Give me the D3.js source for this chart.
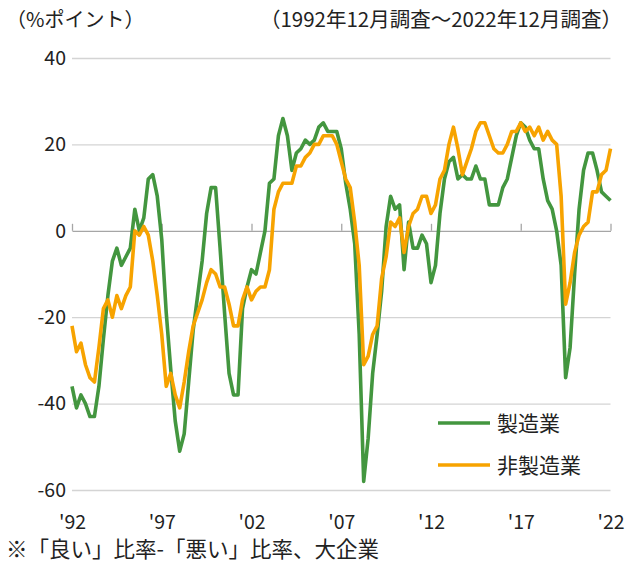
<!DOCTYPE html>
<html>
<head>
<meta charset="utf-8">
<script src="https://cdn.jsdelivr.net/npm/d3@7"></script>
<style>
  body { margin: 0; background: #fff; }
  svg text { font-family: "Noto Sans CJK JP", "Noto Sans", sans-serif; fill: #222; }
</style>
</head>
<body>
<svg id="chart" width="626" height="564"></svg>
<script>
// 1992年12月調査〜2022年12月調査, quarterly, large enterprises
const mfg = [
  -36, -41, -38, -40, -43, -43, -36, -25, -15, -7,
  -4, -8, -6, -4, 5, 0, 3, 12, 13, 8,
  -2, -19, -32, -44, -51, -47, -35, -23, -15, -7,
  4, 10, 10, -4, -19, -33, -38, -38, -18, -13,
  -9, -10, -5, 0, 11, 12, 22, 26, 22, 14,
  18, 19, 21, 20, 21, 24, 25, 23, 23, 23,
  19, 11, 5, -3, -24, -58, -48, -33, -24, -14,
  1, 8, 5, 6, -9, 2, -4, -4, -1, -3,
  -12, -8, 4, 12, 16, 17, 12, 13, 12, 12,
  15, 12, 12, 6, 6, 6, 10, 12, 17, 22,
  25, 24, 21, 19, 19, 12, 7, 5, 0, -8,
  -34, -27, -10, 5, 14, 18, 18, 14, 9, 8,
  7
];
const nonMfg = [
  -22, -28, -26, -31, -34, -35, -27, -18, -16, -20,
  -15, -18, -15, -13, 0, -1, 1, -1, -7, -15,
  -24, -36, -33, -38, -41, -35, -28, -22, -19, -16,
  -12, -9, -10, -13, -13, -17, -22, -22, -16, -13,
  -16, -14, -13, -13, -9, 5, 9, 11, 11, 11,
  15, 15, 17, 18, 20, 20, 22, 22, 22, 20,
  16, 12, 10, 2, -8, -31, -29, -24, -22, -11,
  -6, 2, 1, 3, -5, 1, 4, 5, 8, 8,
  4, 6, 12, 14, 20, 24, 19, 13, 16, 19,
  23, 25, 25, 22, 19, 18, 18, 20, 23, 23,
  25, 23, 24, 22, 24, 21, 23, 21, 20, 8,
  -17, -12, -5, -1, 1, 2, 9, 9, 13, 14,
  19
];
const seriesNames = ["製造業", "非製造業"];
const seriesColors = ["#43963f", "#f7a300"];
const xTickIndex = [0, 20, 40, 60, 80, 100, 120];
const xTickLabels = ["'92", "'97", "'02", "'07", "'12", "'17", "'22"];
const yTicks = [-60, -40, -20, 0, 20, 40];

const svg = d3.select('#chart');
const plotLeft = 72, plotRight = 610.5, plotTop = 58, plotBottom = 490;

const x = d3.scaleLinear().domain([0, mfg.length - 1]).range([plotLeft, plotRight]);
const y = d3.scaleLinear().domain([-60, 40]).range([plotBottom, plotTop]);

// gridlines
svg.append('g')
  .attr('transform', `translate(${plotLeft},0)`)
  .call(d3.axisLeft(y).tickValues(yTicks.filter(d => d !== 0)).tickSize(-(plotRight - plotLeft)).tickFormat(''))
  .call(g => g.select('.domain').remove())
  .call(g => g.selectAll('line').attr('stroke', '#d4d4d4').attr('stroke-width', 1.3));

// y labels (plain hyphen minus like the original)
svg.append('g')
  .attr('transform', `translate(${plotLeft},0)`)
  .call(d3.axisLeft(y).tickValues(yTicks).tickSize(0).tickPadding(6).tickFormat(d => String(d)))
  .call(g => g.select('.domain').remove())
  .call(g => g.selectAll('text').attr('font-size', 19.5).attr('fill', '#222')
    .style('font-family', '"Noto Sans CJK JP", sans-serif'));

// zero axis with upward ticks
svg.append('g')
  .attr('transform', `translate(0,${y(0)})`)
  .call(d3.axisBottom(x).tickValues(xTickIndex).tickSizeInner(-7).tickSizeOuter(0).tickFormat(''))
  .call(g => g.select('.domain').attr('stroke', '#a6a6a6').attr('stroke-width', 1.3))
  .call(g => g.selectAll('line').attr('stroke', '#a6a6a6').attr('stroke-width', 1.3));

// x labels
svg.append('g')
  .attr('transform', `translate(0,${plotBottom})`)
  .call(d3.axisBottom(x).tickValues(xTickIndex).tickSize(0).tickPadding(25)
    .tickFormat((d, i) => xTickLabels[i]))
  .call(g => g.select('.domain').remove())
  .call(g => g.selectAll('text').attr('font-size', 19.5).attr('fill', '#222')
    .style('font-family', '"Noto Sans CJK JP", sans-serif'));

// lines
const line = d3.line().x((d, i) => x(i)).y(d => y(d));
[mfg, nonMfg].forEach((s, k) => {
  svg.append('path')
    .datum(s)
    .attr('fill', 'none')
    .attr('stroke', seriesColors[k])
    .attr('stroke-width', 3.6)
    .attr('stroke-linejoin', 'round')
    .attr('d', line);
});

// legend
const legend = svg.append('g');
seriesNames.forEach((name, k) => {
  const ly = 423 + k * 42;
  legend.append('line')
    .attr('x1', 438).attr('x2', 490).attr('y1', ly).attr('y2', ly)
    .attr('stroke', seriesColors[k]).attr('stroke-width', 3.6);
  legend.append('text')
    .attr('x', 497).attr('y', ly + 8)
    .attr('font-size', 21)
    .text(name);
});

// titles
svg.append('text').attr('x', 6).attr('y', 27).attr('font-size', 20).text('（%ポイント）');
svg.append('text').attr('x', 622).attr('y', 27).attr('font-size', 20.5)
  .attr('text-anchor', 'end').text('（1992年12月調査～2022年12月調査）');
svg.append('text').attr('x', 6).attr('y', 557).attr('font-size', 21.5)
  .text('※「良い」比率-「悪い」比率、大企業');
</script>
</body>
</html>
